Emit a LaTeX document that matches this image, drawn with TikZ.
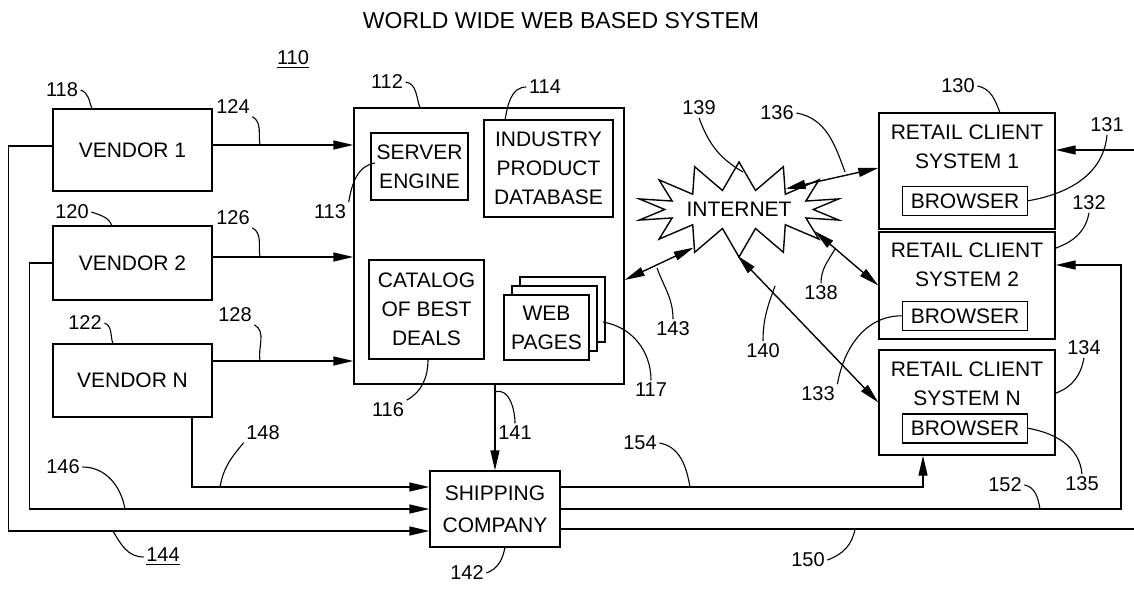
\documentclass[tikz,border=0pt]{standalone}
\usepackage{fontspec}
\setmainfont{Liberation Sans}
\usetikzlibrary{arrows.meta, calc, shapes.symbols, positioning}

\newcommand{\patfont}{\fontsize{10.5}{14.5}\selectfont}
\newcommand{\numfont}{\fontsize{10}{12}\selectfont}
\newcommand{\ttlfont}{\fontsize{11.5}{13}\selectfont}

\begin{document}
\begin{tikzpicture}[x=0.5pt, y=0.5pt, line width=0.7pt,
  >={Triangle[length=10pt,width=4.5pt]},
  box/.style={draw, rectangle, inner sep=0pt, align=center, font=\patfont},
  num/.style={font=\numfont, inner sep=1pt},
  lead/.style={line width=0.55pt}]
  \useasboundingbox (0,0) rectangle (1134,590);

  % Title and figure number
  \node[font=\ttlfont] (title) at (561,569) {WORLD WIDE WEB BASED SYSTEM};
  \node[num] (l110) at (293,530) {\underline{110}};

  % Vendors
  \node[box, minimum width=79.5pt, minimum height=41pt] (v1) at (132.5,440) {VENDOR 1};
  \node[box, minimum width=79.5pt, minimum height=37pt] (v2) at (132.5,327) {VENDOR 2};
  \node[box, minimum width=79.5pt, minimum height=36.5pt] (v3) at (132.5,209.5) {VENDOR N};

  % Server system and its parts
  \node[box, minimum width=135pt, minimum height=138pt] (main) at (489,344) {};
  \node[box, minimum width=48.5pt, minimum height=33.5pt] (srv) at (419.5,423.5) {SERVER\\ENGINE};
  \node[box, minimum width=64.5pt, minimum height=48.5pt] (db) at (548.5,421.5) {INDUSTRY\\PRODUCT\\DATABASE};
  \node[box, minimum width=57.5pt, minimum height=49.5pt] (cat) at (426.5,280.5) {CATALOG\\OF BEST\\DEALS};
  \node[box, fill=white, minimum width=42.5pt, minimum height=32.5pt] (web3) at (562.5,280.5) {};
  \node[box, fill=white, minimum width=42.5pt, minimum height=32.5pt] (web2) at (554.5,271.5) {};
  \node[box, fill=white, minimum width=42.5pt, minimum height=32.5pt] (web) at (546.5,262.5) {WEB\\PAGES};

  % Shipping company
  \node[box, minimum width=65pt, minimum height=38pt, font=\fontsize{10.5}{16}\selectfont] (ship) at (495,81) {SHIPPING\\COMPANY};

  % Internet
  \node[draw, starburst, starburst points=14, starburst point height=14pt, random starburst=0,
        minimum width=80pt, minimum height=47.5pt, inner sep=0pt, font=\patfont] (inet) at (739,380.5) {INTERNET};

  % Retail clients
  \node[box, minimum width=88pt, minimum height=58pt] (rc1) at (967,419) {};
  \node[font=\patfont, align=center] (rc1t) at ($(rc1.north)+(0,-34)$) {RETAIL CLIENT\\SYSTEM 1};
  \node[box, minimum width=62.5pt, minimum height=14.5pt] (br1) at ($(rc1.north)+(-2,-88.5)$) {BROWSER};
  \node[box, minimum width=88pt, minimum height=53.5pt] (rc2) at (967,304.5) {};
  \node[font=\patfont, align=center] (rc2t) at ($(rc2.north)+(0,-33.5)$) {RETAIL CLIENT\\SYSTEM 2};
  \node[box, minimum width=62.5pt, minimum height=14.5pt] (br2) at ($(rc2.north)+(-2,-84.5)$) {BROWSER};
  \node[box, minimum width=88pt, minimum height=52.5pt] (rcN) at (967,187.5) {};
  \node[font=\patfont, align=center] (rcNt) at ($(rcN.north)+(0,-34.5)$) {RETAIL CLIENT\\SYSTEM N};
  \node[box, minimum width=62.5pt, minimum height=14.5pt] (brN) at ($(rcN.north)+(-2,-79)$) {BROWSER};

  % Vendor feeds into the server system
  \coordinate (f1) at ([yshift=2.5pt]v1.east);
  \coordinate (f2) at ([yshift=3pt]v2.east);
  \coordinate (f3) at ([yshift=9.75pt]v3.east);
  \draw[->] (f1) -- (f1 -| main.west);
  \draw[->] (f2) -- (f2 -| main.west);
  \draw[->] (f3) -- (f3 -| main.west);

  % Vendor lines to the shipping company
  \coordinate (s1) at ([yshift=11pt]ship.west);
  \coordinate (s3) at ([yshift=-11pt]ship.west);
  \draw[->] ([yshift=2pt]v1.west) -- ++(-44,0) |- (s3);
  \draw[->] (v2.west) -- ++(-23,0) |- (ship.west);
  \draw[->] ([xshift=29.75pt]v3.south) |- (s1);
  \draw[->] (main.south -| ship.north) -- (ship.north);

  % Shipping company out to the clients
  \coordinate (o1) at ([yshift=11pt]ship.east);
  \coordinate (o3) at ([yshift=-10pt]ship.east);
  \coordinate (edge) at (1134,0);
  \coordinate (rt) at (1121,0);
  \coordinate (i1) at ([yshift=10.5pt]rc1.east);
  \draw[->] (o1) -| ([xshift=-22pt]rcN.south);
  \draw[->] (ship.east) -- (ship.east -| rt) |- ([yshift=10.25pt]rc2.east);
  \draw (o3) -- (o3 -| edge);
  \draw[->] (i1 -| edge) -- (i1);

  % Internet links
  \draw[<->] (inet.24) -- ([yshift=1.5pt]rc1.west);
  \draw[<->] (inet.-16) -- (rc2.west);
  \draw[<->] (inet.-92) -- (rcN.west);
  \draw[<->] ([yshift=-17pt]main.east) -- (inet.220);

  % Reference numerals
  \node[num] (l118) at (62,500) {118};
  \draw[lead] (l118.east) to[out=-20,in=110] (92,481);
  \node[num] (l120) at (72,378) {120};
  \draw[lead] (l120.east) to[out=-20,in=110] (112,364);
  \node[num] (l122) at (85,267) {122};
  \draw[lead] (l122.east) to[out=-20,in=110] (113,246);
  \node[num] (l124) at (233,483) {124};
  \draw[lead] (l124.south east) to[out=-30,in=100] (260,445);
  \node[num] (l126) at (233,372) {126};
  \draw[lead] (l126.south east) to[out=-30,in=100] (260,333);
  \node[num] (l128) at (235,275) {128};
  \draw[lead] (l128.south east) to[out=-30,in=100] (260,229);
  \node[num] (l113) at (330,378) {113};
  \draw[lead] (l113.north east) to[out=80,in=190] (375,427);
  \node[num] (l112) at (387,508) {112};
  \draw[lead] (l112.east) to[out=-10,in=110] (420,482);
  \node[num] (l114) at (545,503) {114};
  \draw[lead] (l114.west) to[out=180,in=80] (505,470);
  \node[num] (l116) at (388,180) {116};
  \draw[lead] (l116.north east) to[out=30,in=-90] (428,231);
  \node[num] (l117) at (651,200) {117};
  \draw[lead] (l117.north) to[out=90,in=-10] (603,268);
  \node[num] (l143) at (673,261) {143};
  \draw[lead] (l143.north) to[out=90,in=-70] (657,322);
  \node[num] (l139) at (699,482) {139};
  \draw[lead] (l139.south) to[out=-70,in=150] (743,418);
  \node[num] (l136) at (777,477) {136};
  \draw[lead] (l136.east) to[out=-10,in=110] (845,418);
  \node[num] (l130) at (958,504) {130};
  \draw[lead] (l130.east) to[out=-10,in=110] (1000,477);
  \node[num] (l131) at (1107,465) {131};
  \draw[lead] (l131.south) to[out=-95,in=10] (br1.east);
  \node[num] (l132) at (1089,387) {132};
  \draw[lead] (l132.south) to[out=-100,in=20] (1056,342);
  \node[num] (l138) at (821,297) {138};
  \draw[lead] (l138.north) to[out=90,in=-120] (835,341);
  \node[num] (l140) at (763,239) {140};
  \draw[lead] (l140.north) to[out=90,in=-110] (775,304);
  \node[num] (l133) at (818,196) {133};
  \draw[lead] (l133.north east) to[out=80,in=180] (br2.west);
  \node[num] (l134) at (1084,242) {134};
  \draw[lead] (l134.south) to[out=-100,in=20] (1056,197);
  \node[num] (l135) at (1082,106) {135};
  \draw[lead] (l135.north) to[out=95,in=-10] (brN.east);
  \node[num] (l152) at (1005,105) {152};
  \draw[lead] (l152.east) to[out=-10,in=100] (1040,81);
  \node[num] (l154) at (640,147) {154};
  \draw[lead] (l154.east) to[out=-10,in=100] (690,103);
  \node[num] (l150) at (808,30) {150};
  \draw[lead] (l150.east) to[out=20,in=-100] (855,61);
  \node[num] (l142) at (467,17) {142};
  \draw[lead] (l142.east) to[out=20,in=-100] (505,43);
  \node[num] (l141) at (515,157) {141};
  \draw[lead] (l141.north) to[out=90,in=20] (495,198);
  \node[num] (l148) at (263,157) {148};
  \draw[lead] (l148.south west) to[out=230,in=80] (220,103);
  \node[num] (l146) at (63,123) {146};
  \draw[lead] (l146.east) to[out=0,in=100] (125,81);
  \node[num] (l144) at (163,33) {\underline{144}};
  \draw[lead] (l144.west) to[out=180,in=-60] (113,59);
\end{tikzpicture}
\end{document}
